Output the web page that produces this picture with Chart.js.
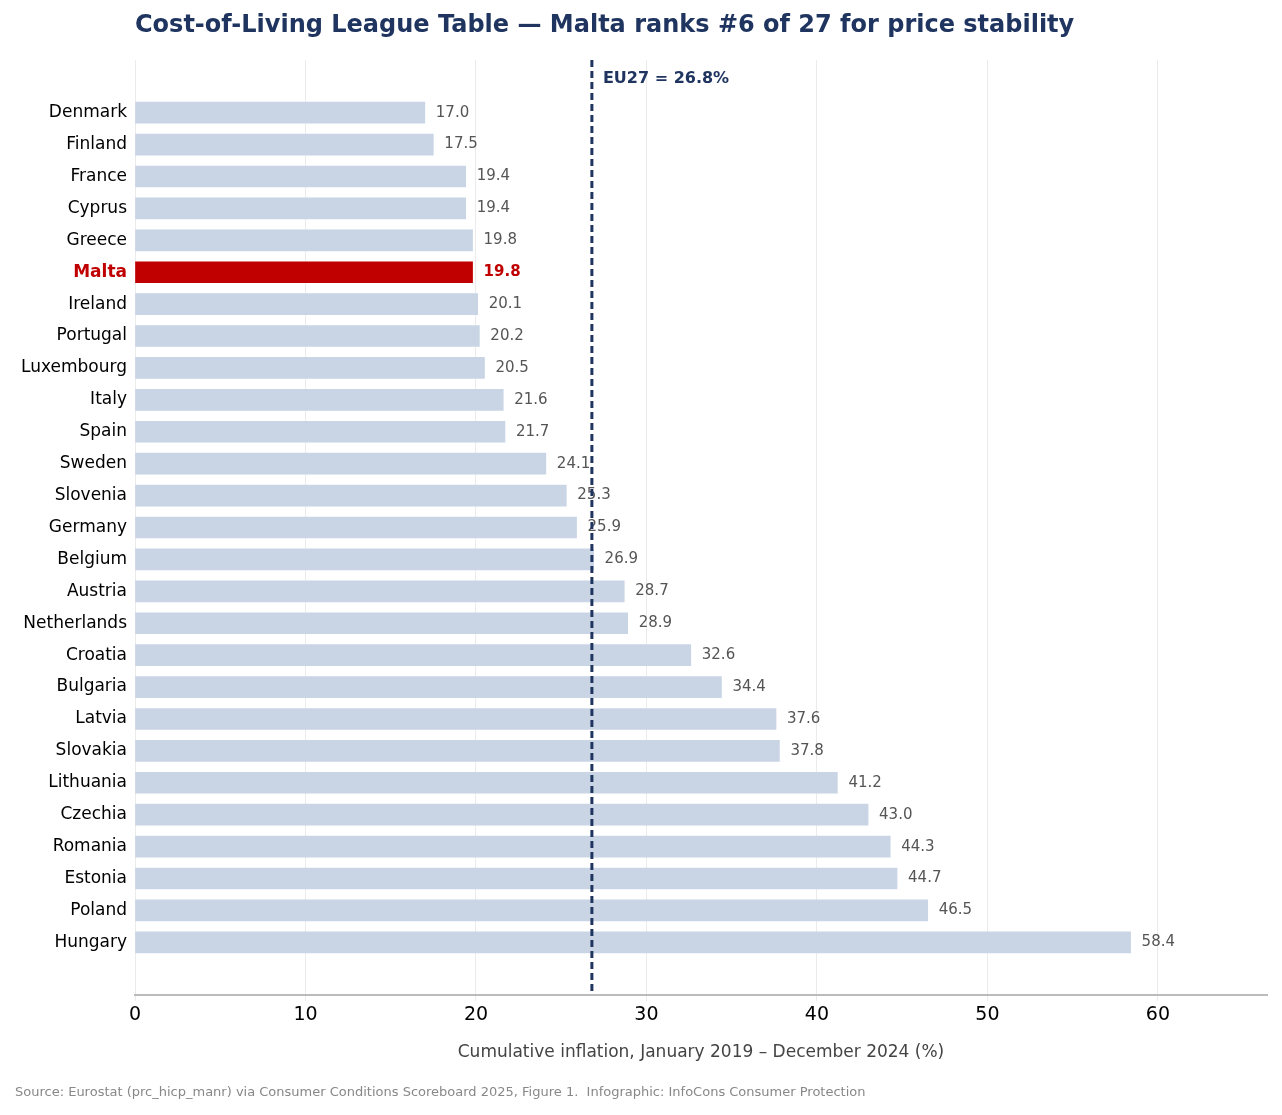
<!DOCTYPE html>
<html><head><meta charset="utf-8">
<script src="https://cdn.jsdelivr.net/npm/chart.js@4"></script>
<style>html,body{margin:0;padding:0;background:#fff}#w{width:1282px;height:1115px}</style>
</head><body><div id="w"><canvas id="c"></canvas></div>
<script>
const countries=["Denmark","Finland","France","Cyprus","Greece","Malta","Ireland","Portugal","Luxembourg","Italy","Spain","Sweden","Slovenia","Germany","Belgium","Austria","Netherlands","Croatia","Bulgaria","Latvia","Slovakia","Lithuania","Czechia","Romania","Estonia","Poland","Hungary"];
const inflation=[17.0,17.5,19.4,19.4,19.8,19.8,20.1,20.2,20.5,21.6,21.7,24.1,25.3,25.9,26.9,28.7,28.9,32.6,34.4,37.6,37.8,41.2,43.0,44.3,44.7,46.5,58.4];
const xTicks=[0,10,20,30,40,50,60];
const eu27=26.8;
const highlight="Malta";
const FONT="DejaVu Sans";
const navy="#1f3560", red="#c00000";
const overlay={id:'ov',afterDatasetsDraw(ch){
 const {ctx,scales:{x,y},chartArea:a}=ch;ctx.save();
 ctx.textBaseline="middle";
 inflation.forEach((v,i)=>{const m=countries[i]===highlight;
  ctx.fillStyle=m?red:"#555";ctx.font=(m?"bold ":"")+"15px "+FONT;
  ctx.fillText(v.toFixed(1),x.getPixelForValue(v)+11,y.getPixelForValue(i));});
 const px=x.getPixelForValue(eu27);
 ctx.strokeStyle=navy;ctx.lineWidth=3;ctx.setLineDash([7,4]);
 ctx.beginPath();ctx.moveTo(px,a.top);ctx.lineTo(px,a.bottom);ctx.stroke();ctx.setLineDash([]);
 ctx.fillStyle=navy;ctx.font="bold 16px "+FONT;ctx.fillText("EU27 = "+eu27+"%",px+11,79);
 ctx.font="bold 24px "+FONT;ctx.fillText("Cost-of-Living League Table — Malta ranks #6 of 27 for price stability",135,26);
 ctx.fillStyle="#888";ctx.font="13px "+FONT;ctx.fillText("Source: Eurostat (prc_hicp_manr) via Consumer Conditions Scoreboard 2025, Figure 1.  Infographic: InfoCons Consumer Protection",15,1093);
 ctx.restore();}};
new Chart(document.getElementById('c'),{type:'bar',
 data:{datasets:[{data:inflation.map((v,i)=>({x:v,y:i})),
  backgroundColor:countries.map(c=>c===highlight?red:"#c9d5e5"),barThickness:21}]},
 options:{indexAxis:'y',responsive:true,maintainAspectRatio:false,animation:false,
  layout:{padding:{top:60,right:15,left:0,bottom:52}},
  plugins:{legend:{display:false},tooltip:{enabled:false}},
  scales:{
   x:{type:'linear',min:0,max:66.4,afterBuildTicks(s){s.ticks=xTicks.map(v=>({value:v}));},
    afterFit(s){s.height=68;},
    grid:{color:"#ebebeb",drawTicks:true,tickLength:6},border:{color:"#bbb",width:2},
    ticks:{font:{family:FONT,size:19},color:"#000"},
    title:{display:true,text:"Cumulative inflation, January 2019 – December 2024 (%)",font:{family:FONT,size:17},color:"#444",padding:{top:4,bottom:0}}},
   y:{type:'linear',reverse:true,offset:false,min:-1.65,max:27.65,afterFit(s){s.width=135;},
    afterBuildTicks(s){s.ticks=countries.map((c,i)=>({value:i}));},
    grid:{display:false},border:{display:false},
    ticks:{autoSkip:false,padding:0,font:c=>({family:FONT,size:17,weight:countries[c.tick&&c.tick.value]===highlight?'bold':'normal'}),
     color:c=>countries[c.tick&&c.tick.value]===highlight?red:"#000",
     callback:v=>countries[v]}}}},
 plugins:[overlay]});
</script></body></html>
